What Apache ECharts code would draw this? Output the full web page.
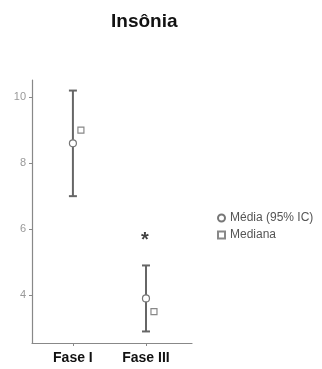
<!DOCTYPE html>
<html>
<head>
<meta charset="utf-8">
<script src="https://cdn.jsdelivr.net/npm/echarts@6/dist/echarts.min.js"></script>
<style>
    html, body { margin: 0; padding: 0; background: #fff; }
    #chart { width: 322px; height: 369px; }
</style>
</head>
<body>
<div id="chart"></div>
<script>
    // values
    var categories = ['Fase I', 'Fase III'];
    var mediaValues = [8.6, 3.9];
    var ciLower = [7.0, 2.9];
    var ciUpper = [10.2, 4.9];
    var medianValues = [9.0, 3.5];
    var yTicks = [4, 6, 8, 10];
    var starCategory = 1;
    var starValue = 5.75;

    var font = '"Liberation Sans", Arial, sans-serif';
    var grey = '#777';

    function xOf(i) { return i + 1; }

    var chart = echarts.init(document.getElementById('chart'));

    var option = {
        animation: false,
        title: {
            text: 'Insônia',
            left: 106,
            top: 7,
            textStyle: { fontFamily: font, fontWeight: 'bold', fontSize: 19, color: '#111' }
        },
        legend: {
            orient: 'vertical',
            left: 212,
            top: 207,
            itemWidth: 7,
            itemHeight: 7,
            itemGap: 5,
            data: ['Média (95% IC)', 'Mediana'],
            textStyle: { fontFamily: font, fontSize: 12, color: '#555' }
        },
        grid: { left: 32, top: 80, width: 160, height: 263, containLabel: false },
        xAxis: {
            type: 'value',
            min: 0.44,
            max: 2.63,
            splitLine: { show: false },
            axisLine: { lineStyle: { color: '#888', width: 1.2 } },
            axisTick: { customValues: categories.map(function(c, i) { return xOf(i); }), length: 3, lineStyle: { color: '#888' } },
            axisLabel: {
                customValues: categories.map(function(c, i) { return xOf(i); }),
                formatter: function(v) { return categories[Math.round(v) - 1]; },
                margin: 8,
                fontFamily: font, fontWeight: 'bold', fontSize: 14, color: '#111'
            }
        },
        yAxis: {
            type: 'value',
            min: 2.55,
            max: 10.52,
            splitLine: { show: false },
            axisLine: { show: true, lineStyle: { color: '#888', width: 1.2 } },
            axisTick: { customValues: yTicks, length: 3, lineStyle: { color: '#888' } },
            axisLabel: {
                customValues: yTicks,
                margin: 6,
                fontFamily: font, fontSize: 11, color: '#999'
            }
        },
        series: [{
            type: 'custom',
            name: 'IC',
            data: categories.map(function(c, i) { return [xOf(i), ciLower[i], ciUpper[i]]; }),
            renderItem: function(params, api) {
                var lo = api.coord([api.value(0), api.value(1)]);
                var hi = api.coord([api.value(0), api.value(2)]);
                var hw = 4;
                var style = { stroke: '#666', lineWidth: 2 };
                return {
                    type: 'group',
                    children: [
                        { type: 'line', shape: { x1: lo[0], y1: lo[1], x2: hi[0], y2: hi[1] }, style: style },
                        { type: 'line', shape: { x1: lo[0] - hw, y1: lo[1], x2: lo[0] + hw, y2: lo[1] }, style: style },
                        { type: 'line', shape: { x1: hi[0] - hw, y1: hi[1], x2: hi[0] + hw, y2: hi[1] }, style: style }
                    ]
                };
            },
            z: 2
        }, {
            type: 'scatter',
            name: 'Média (95% IC)',
            symbol: 'circle',
            symbolSize: 7,
            data: categories.map(function(c, i) { return [xOf(i), mediaValues[i]]; }),
            itemStyle: { color: '#fff', borderColor: grey, borderWidth: 1.2, opacity: 1 },
            z: 3
        }, {
            type: 'scatter',
            name: 'Mediana',
            symbol: 'rect',
            symbolSize: 6,
            symbolOffset: [8, 0],
            data: categories.map(function(c, i) { return [xOf(i), medianValues[i]]; }),
            itemStyle: { color: '#fff', borderColor: '#888', borderWidth: 1.2, opacity: 1 },
            z: 3
        }, {
            type: 'scatter',
            name: 'star',
            symbolSize: 1,
            itemStyle: { color: 'rgba(0,0,0,0)' },
            data: [[xOf(starCategory), starValue]],
            label: {
                show: true,
                position: 'inside',
                offset: [-1, 3],
                formatter: '*',
                fontFamily: font,
                fontWeight: 'bold',
                fontSize: 20,
                color: '#111'
            },
            silent: true,
            z: 4
        }]
    };

    chart.setOption(option);
</script>
</body>
</html>
